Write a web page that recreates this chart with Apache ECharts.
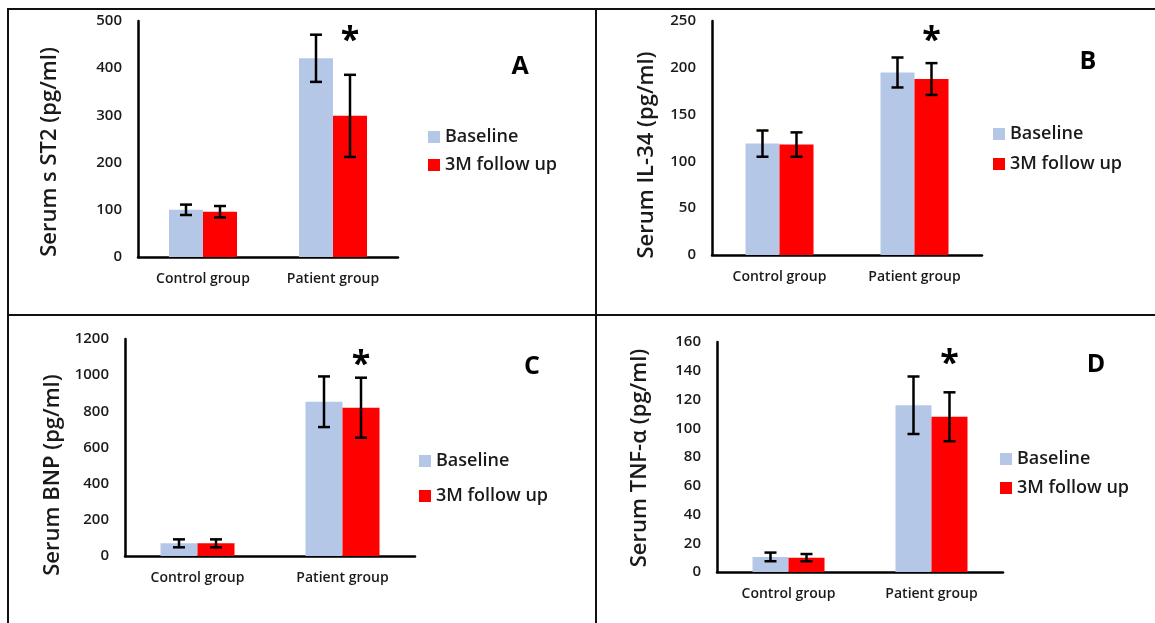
<!DOCTYPE html>
<html>
<head>
<meta charset="utf-8">
<script src="https://cdn.jsdelivr.net/npm/echarts@6/dist/echarts.min.js"></script>
<style>
html,body{margin:0;padding:0;background:#fff;}
#main{width:1155px;height:623px;}
</style>
</head>
<body>
<div id="main"></div>
<script>
// ---- data ----
const categories = ['Control group', 'Patient group'];
const seriesNames = ['Baseline', '3M follow up'];

const st2Baseline = [100, 421];
const st2BaselineErr = [11, 50];
const st2Follow = [96, 299];
const st2FollowErr = [12, 87];

const il34Baseline = [119, 195];
const il34BaselineErr = [14, 16];
const il34Follow = [118, 188];
const il34FollowErr = [13, 17];

const bnpBaseline = [70, 853];
const bnpBaselineErr = [22, 140];
const bnpFollow = [70, 820];
const bnpFollowErr = [22, 166];

const tnfBaseline = [10.5, 116];
const tnfBaselineErr = [3, 20];
const tnfFollow = [10, 108];
const tnfFollowErr = [2.5, 17];

const yTitles = ['Serum s ST2 (pg/ml)', 'Serum IL-34 (pg/ml)', 'Serum BNP (pg/ml)', 'Serum TNF-\u03b1 (pg/ml)'];
const panelLetters = ['A', 'B', 'C', 'D'];
const yMax = [500, 250, 1200, 160];
const yInterval = [100, 50, 200, 20];
const starValues = [474, 237, 1100, 150];

// ---- layout (style only) ----
const FONT = '"Open Sans", "Liberation Sans", sans-serif';
const COLORS = ['#B4C7E7', '#FF0000'];
const TXT = '#1a1a1a';
const grids = [
  {left: 138, top: 21, width: 260, height: 236},
  {left: 712, top: 21, width: 270, height: 234},
  {left: 125, top: 339, width: 290, height: 217},
  {left: 717, top: 342, width: 286, height: 230}
];
const barWidths = [34, 34, 37, 36];
const titlePos = [[50, 152], [647, 155], [53, 475], [640, 458]];
const letterPos = [[520, 67], [1088, 62], [532, 367], [1096, 365]];
const legendPos = [[423, 122], [988, 119], [414, 446], [995, 444]];
const legendGap = [8, 10, 15, 9];

const panels = [
  [st2Baseline, st2BaselineErr, st2Follow, st2FollowErr],
  [il34Baseline, il34BaselineErr, il34Follow, il34FollowErr],
  [bnpBaseline, bnpBaselineErr, bnpFollow, bnpFollowErr],
  [tnfBaseline, tnfBaselineErr, tnfFollow, tnfFollowErr]
];

const xAxes = [], yAxes = [], series = [], legends = [];
panels.forEach(function (p, i) {
  xAxes.push({
    type: 'category', gridIndex: i, data: categories,
    axisLine: {lineStyle: {color: '#000', width: 2.5}},
    axisTick: {show: false},
    axisLabel: {margin: 15, fontSize: 14, fontWeight: 600, color: TXT, fontFamily: FONT}
  });
  yAxes.push({
    type: 'value', gridIndex: i, min: 0, max: yMax[i], interval: yInterval[i],
    axisLine: {show: true, lineStyle: {color: '#000', width: 2.5}},
    axisTick: {show: false},
    splitLine: {show: false},
    axisLabel: {margin: 16, fontSize: 15, fontWeight: 600, color: TXT, fontFamily: FONT,
      formatter: function (v) { return String(v); }}
  });
  const bw = barWidths[i];
  [0, 1].forEach(function (s) {
    series.push({
      type: 'bar', name: seriesNames[s], xAxisIndex: i, yAxisIndex: i,
      data: p[s * 2], barWidth: bw, barGap: '0%',
      itemStyle: {color: COLORS[s]}
    });
  });
  [0, 1].forEach(function (s) {
    const vals = p[s * 2], errs = p[s * 2 + 1];
    const off = s === 0 ? -bw / 2 : bw / 2;
    series.push({
      type: 'custom', xAxisIndex: i, yAxisIndex: i, silent: true, z: 10,
      data: vals.map(function (v, k) { return [k, v, errs[k]]; }),
      encode: {x: 0, y: 1},
      renderItem: function (params, api) {
        const c = api.value(0), v = api.value(1), e = api.value(2);
        const hi = api.coord([c, v + e]);
        const lo = api.coord([c, v - e]);
        const x = hi[0] + off;
        const cap = 6;
        const st = {stroke: '#000', lineWidth: 2.5};
        return {type: 'group', children: [
          {type: 'line', shape: {x1: x, y1: hi[1], x2: x, y2: lo[1]}, style: st},
          {type: 'line', shape: {x1: x - cap, y1: hi[1], x2: x + cap, y2: hi[1]}, style: st},
          {type: 'line', shape: {x1: x - cap, y1: lo[1], x2: x + cap, y2: lo[1]}, style: st}
        ]};
      }
    });
  });
  // significance star above follow-up bar of patient group
  series.push({
    type: 'custom', xAxisIndex: i, yAxisIndex: i, silent: true, z: 10,
    data: [[1, starValues[i]]],
    encode: {x: 0, y: 1},
    renderItem: function (params, api) {
      const pt = api.coord([api.value(0), api.value(1)]);
      return {type: 'text', x: pt[0] + bw / 2, y: pt[1] + 8,
        style: {text: '*', fontSize: 34, fontWeight: 'bold', fontFamily: FONT, fill: '#000',
          align: 'center', verticalAlign: 'middle'}};
    }
  });
  legends.push({
    left: legendPos[i][0], top: legendPos[i][1], orient: 'vertical',
    data: seriesNames, itemWidth: 12, itemHeight: 12, itemGap: legendGap[i],
    icon: 'rect', selectedMode: false,
    textStyle: {fontSize: 18, fontWeight: 600, lineHeight: 20, color: TXT, fontFamily: FONT}
  });
});

const graphics = [];
// frame lines
const lineStyle = {stroke: '#111', lineWidth: 2};
graphics.push({type: 'line', shape: {x1: 7, y1: 9, x2: 1155, y2: 9}, style: lineStyle});
graphics.push({type: 'line', shape: {x1: 8, y1: 8, x2: 8, y2: 623}, style: lineStyle});
graphics.push({type: 'line', shape: {x1: 596, y1: 8, x2: 596, y2: 623}, style: lineStyle});
graphics.push({type: 'line', shape: {x1: 7, y1: 315, x2: 1155, y2: 315}, style: lineStyle});
yTitles.forEach(function (t, i) {
  graphics.push({type: 'text', x: titlePos[i][0], y: titlePos[i][1], rotation: Math.PI / 2,
    style: {text: t, fontSize: 22, fontWeight: 600, fontFamily: FONT, fill: TXT, align: 'center', verticalAlign: 'middle'}});
  graphics.push({type: 'text', x: letterPos[i][0], y: letterPos[i][1],
    style: {text: panelLetters[i], fontSize: 25, fontWeight: 'bold', fontFamily: FONT, fill: '#000',
      align: 'center', verticalAlign: 'middle'}});
});

const chart = echarts.init(document.getElementById('main'), null, {renderer: 'canvas'});
chart.setOption({
  animation: false,
  backgroundColor: '#fff',
  grid: grids,
  xAxis: xAxes,
  yAxis: yAxes,
  legend: legends,
  series: series,
  graphic: graphics
});
</script>
</body>
</html>
